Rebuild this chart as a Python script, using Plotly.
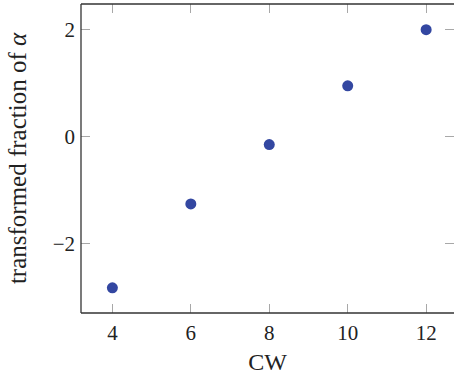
import plotly.graph_objects as go

cw = [4, 6, 8, 10, 12]
frac = [-2.83, -1.26, -0.15, 0.95, 2.0]
x_ticks = [4, 6, 8, 10, 12]
y_ticks = [-2, 0, 2]

font_family = "Liberation Serif"
fig = go.Figure()
fig.add_trace(go.Scatter(
    x=cw, y=frac, mode="markers",
    marker=dict(size=11, color="#3347a1", line=dict(width=0)),
    showlegend=False,
))

axis_common = dict(
    showgrid=False, zeroline=False, showline=False,
    ticks="inside", ticklen=9, tickwidth=1.3, tickcolor="#a8a8a8",
    mirror="ticks",
    tickfont=dict(family=font_family, size=21, color="#222222"),
)

fig.update_layout(
    width=454, height=378,
    margin=dict(l=81, r=0, t=4, b=65),
    paper_bgcolor="white", plot_bgcolor="white",
    font=dict(family=font_family),
    xaxis=dict(range=[3.2, 12.71], tickvals=x_ticks, ticklabelstandoff=5,
               title=dict(text="CW", font=dict(family=font_family, size=24, color="#222222"), standoff=9),
               **axis_common),
    yaxis=dict(range=[-3.30, 2.48], tickvals=y_ticks, ticklabelstandoff=5,
               title=dict(text="transformed fraction of <i>α</i>", font=dict(family=font_family, size=25, color="#222222"), standoff=18),
               **axis_common),
    shapes=[
        dict(type="line", xref="paper", yref="paper", x0=0, x1=0, y0=0, y1=1, line=dict(color="#333333", width=1.3)),
        dict(type="line", xref="paper", yref="paper", x0=0, x1=1.01, y0=0, y1=0, line=dict(color="#333333", width=1.3)),
        dict(type="line", xref="paper", yref="paper", x0=0, x1=1.01, y0=1, y1=1, line=dict(color="#333333", width=1.3)),
    ],
)

fig.write_html("out.html")
